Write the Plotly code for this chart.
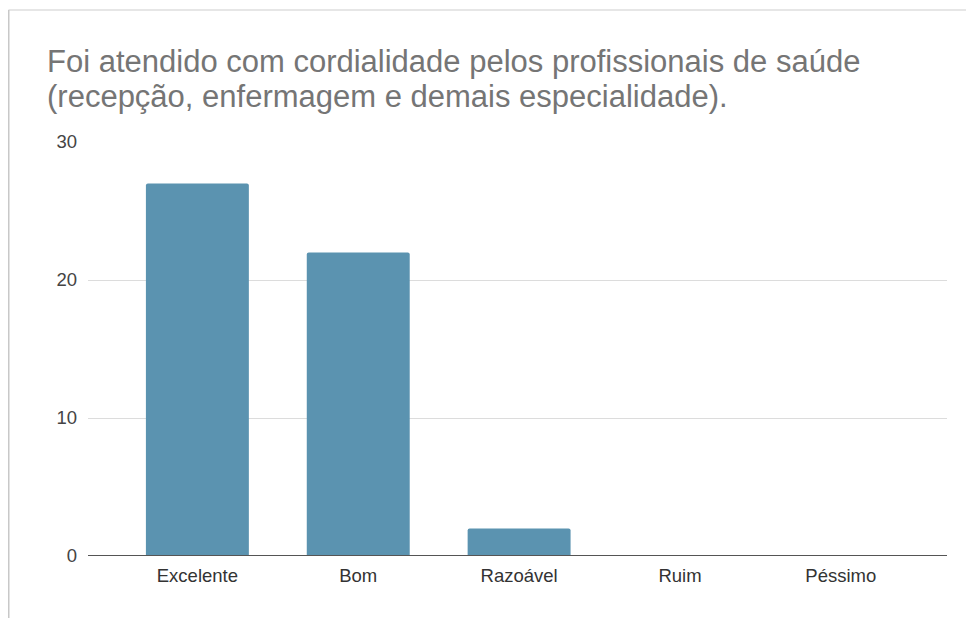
import plotly.graph_objects as go

categories = ["Excelente", "Bom", "Razoável", "Ruim", "Péssimo"]
values = [27, 22, 2, 0, 0]
title_lines = ["Foi atendido com cordialidade pelos profissionais de saúde",
               "(recepção, enfermagem e demais especialidade)."]
y_ticks = [0, 10, 20, 30]

# page body has an 8px margin; lay out in screen pixels and compensate
OFF = 8
W, H = 974 - OFF, 618 - OFF
L, R, T, B = 88 - OFF, 974 - 947, 142 - OFF, 618 - 556
pw = W - L - R
ph = H - T - B

def px_x(x):
    return (x - OFF - L) / pw

def px_y(y):
    return (H - B - (y - OFF)) / ph

fig = go.Figure(go.Bar(
    x=categories, y=values,
    marker=dict(color="#5b93b0", line=dict(width=0), cornerradius=2),
    width=0.64,
))

font_fam = "Liberation Sans, Arial, sans-serif"

fig.update_layout(
    width=W, height=H,
    margin=dict(l=L, r=R, t=T, b=B),
    paper_bgcolor="white", plot_bgcolor="white",
    showlegend=False,
    font=dict(family=font_fam),
    xaxis=dict(range=[-0.68, 4.66], showgrid=False, showline=False, zeroline=False,
               ticks="", tickfont=dict(size=18.5, color="#333333"),
               ticklabelstandoff=6),
    yaxis=dict(range=[0, 30], tickvals=y_ticks, showgrid=True, gridcolor="#dcdcdc",
               gridwidth=1, zeroline=False, showline=False, ticks="",
               tickfont=dict(size=18.5, color="#444444"), ticklabelstandoff=10),
)

# baseline
fig.add_shape(type="line", xref="paper", yref="y", x0=0, x1=1, y0=0, y1=0,
              line=dict(color="#555555", width=2))

# title: one text (line pitch = 1.3 x outer font size)
title_html = "<br>".join(
    "<span style='font-size:31px'>%s</span>" % t for t in title_lines)
fig.add_annotation(text=title_html, xref="paper", yref="paper",
                   x=px_x(45), y=px_y(42), xanchor="left", yanchor="top",
                   align="left", showarrow=False,
                   font=dict(size=27, color="#757575", family=font_fam))

# card frame
fig.add_shape(type="line", xref="paper", yref="paper",
              x0=px_x(8.5), x1=px_x(990), y0=px_y(10), y1=px_y(10),
              line=dict(color="#e6e6e6", width=2), layer="above")
fig.add_shape(type="line", xref="paper", yref="paper",
              x0=px_x(8.5), x1=px_x(8.5), y0=px_y(10), y1=px_y(640),
              line=dict(color="#c8c8c8", width=2), layer="above")

fig.write_html("out.html")
